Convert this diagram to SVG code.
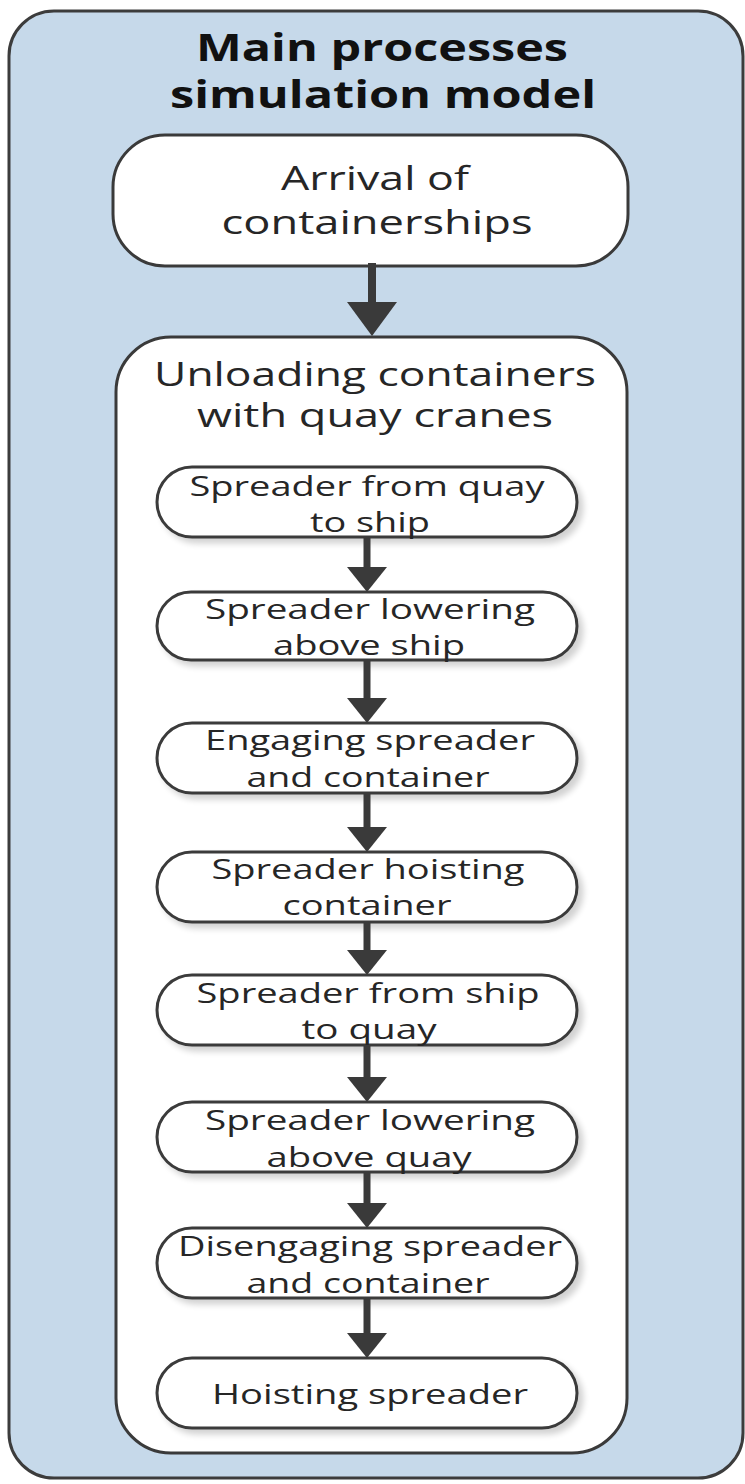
<svg xmlns="http://www.w3.org/2000/svg" width="745" height="1484" viewBox="0 0 745 1484">
  <style>
    .panel { fill: #c6d9ea; stroke: #3c3c3c; stroke-width: 3; }
    .box { fill: #ffffff; stroke: #3a3a3a; stroke-width: 3; }
    .step { fill: #ffffff; stroke: #3a3a3a; stroke-width: 3; filter: url(#soft); }
    .title { font-family: "Open Sans", "Liberation Sans", sans-serif; font-weight: bold; font-size: 38px; fill: #111111; text-anchor: middle; }
    .label { font-family: "Open Sans", "Liberation Sans", sans-serif; font-size: 32px; fill: #262626; text-anchor: middle; }
    .sub { font-family: "Open Sans", "Liberation Sans", sans-serif; font-size: 28px; fill: #262626; text-anchor: middle; }
    .shaft { stroke: #3a3a3a; stroke-width: 7; fill: none; }
    .head { fill: #3a3a3a; }
  </style>
  <defs>
    <filter id="soft" x="-10%" y="-20%" width="125%" height="150%">
      <feGaussianBlur in="SourceAlpha" stdDeviation="3"/>
      <feOffset dx="5" dy="5" result="b"/>
      <feComponentTransfer><feFuncA type="linear" slope="0.18"/></feComponentTransfer>
      <feMerge><feMergeNode/><feMergeNode in="SourceGraphic"/></feMerge>
    </filter>
  </defs>

  <!-- outer container -->
  <g id="main-model">
    <rect class="panel" x="9" y="11" width="734" height="1467" rx="45" ry="45"/>
    <text class="title" x="382" y="61" textLength="372" lengthAdjust="spacingAndGlyphs">Main processes</text>
    <text class="title" x="383" y="108" textLength="426" lengthAdjust="spacingAndGlyphs">simulation model</text>
  </g>

  <g id="arrival">
    <rect class="box" x="113" y="135" width="515" height="131" rx="52" ry="52"/>
    <text class="label" x="375" y="190" textLength="188" lengthAdjust="spacingAndGlyphs">Arrival of</text>
    <text class="label" x="377" y="234" textLength="311" lengthAdjust="spacingAndGlyphs">containerships</text>
  </g>

  <g id="unloading">
    <rect class="box" x="116" y="337" width="511" height="1116" rx="55" ry="55"/>
    <text class="label" x="375" y="386" textLength="442" lengthAdjust="spacingAndGlyphs">Unloading containers</text>
    <text class="label" x="375" y="427" textLength="356" lengthAdjust="spacingAndGlyphs">with quay cranes</text>
  </g>

  <g id="step1">
    <rect class="step" x="157" y="467" width="420" height="70" rx="35" ry="35"/>
    <text class="sub" x="367" y="496" textLength="355" lengthAdjust="spacingAndGlyphs">Spreader from quay</text>
    <text class="sub" x="370" y="532" textLength="120" lengthAdjust="spacingAndGlyphs">to ship</text>
  </g>
  <g id="step2">
    <rect class="step" x="157" y="592" width="420" height="68" rx="34" ry="34"/>
    <text class="sub" x="370" y="619" textLength="330" lengthAdjust="spacingAndGlyphs">Spreader lowering</text>
    <text class="sub" x="369" y="655" textLength="192" lengthAdjust="spacingAndGlyphs">above ship</text>
  </g>
  <g id="step3">
    <rect class="step" x="157" y="723" width="420" height="70" rx="35" ry="35"/>
    <text class="sub" x="370" y="750" textLength="330" lengthAdjust="spacingAndGlyphs">Engaging spreader</text>
    <text class="sub" x="368" y="787" textLength="243" lengthAdjust="spacingAndGlyphs">and container</text>
  </g>
  <g id="step4">
    <rect class="step" x="157" y="852" width="420" height="70" rx="35" ry="35"/>
    <text class="sub" x="368" y="879" textLength="313" lengthAdjust="spacingAndGlyphs">Spreader hoisting</text>
    <text class="sub" x="367" y="915" textLength="169" lengthAdjust="spacingAndGlyphs">container</text>
  </g>
  <g id="step5">
    <rect class="step" x="157" y="975" width="420" height="70" rx="35" ry="35"/>
    <text class="sub" x="368" y="1003" textLength="343" lengthAdjust="spacingAndGlyphs">Spreader from ship</text>
    <text class="sub" x="369" y="1039" textLength="135" lengthAdjust="spacingAndGlyphs">to quay</text>
  </g>
  <g id="step6">
    <rect class="step" x="157" y="1102" width="420" height="70" rx="35" ry="35"/>
    <text class="sub" x="370" y="1130" textLength="330" lengthAdjust="spacingAndGlyphs">Spreader lowering</text>
    <text class="sub" x="369" y="1167" textLength="205" lengthAdjust="spacingAndGlyphs">above quay</text>
  </g>
  <g id="step7">
    <rect class="step" x="157" y="1228" width="420" height="70" rx="35" ry="35"/>
    <text class="sub" x="370" y="1256" textLength="384" lengthAdjust="spacingAndGlyphs">Disengaging spreader</text>
    <text class="sub" x="368" y="1293" textLength="243" lengthAdjust="spacingAndGlyphs">and container</text>
  </g>
  <g id="step8">
    <rect class="step" x="157" y="1358" width="420" height="70" rx="35" ry="35"/>
    <text class="sub" x="370" y="1404" textLength="316" lengthAdjust="spacingAndGlyphs">Hoisting spreader</text>
  </g>

  <!-- flow arrows -->
  <g id="connectors">
    <line class="shaft" x1="372" y1="263" x2="372" y2="305" style="stroke-width:8"/>
    <polygon class="head" points="347,302 397,302 372,336"/>

    <line class="shaft" x1="367" y1="537" x2="367" y2="570"/>
    <polygon class="head" points="347,567 387,567 367,592"/>

    <line class="shaft" x1="367" y1="660" x2="367" y2="701"/>
    <polygon class="head" points="347,698 387,698 367,723"/>

    <line class="shaft" x1="367" y1="793" x2="367" y2="830"/>
    <polygon class="head" points="347,827 387,827 367,852"/>

    <line class="shaft" x1="367" y1="922" x2="367" y2="953"/>
    <polygon class="head" points="347,950 387,950 367,975"/>

    <line class="shaft" x1="367" y1="1045" x2="367" y2="1080"/>
    <polygon class="head" points="347,1077 387,1077 367,1102"/>

    <line class="shaft" x1="367" y1="1172" x2="367" y2="1206"/>
    <polygon class="head" points="347,1203 387,1203 367,1228"/>

    <line class="shaft" x1="367" y1="1298" x2="367" y2="1336"/>
    <polygon class="head" points="347,1333 387,1333 367,1358"/>
  </g>
</svg>
